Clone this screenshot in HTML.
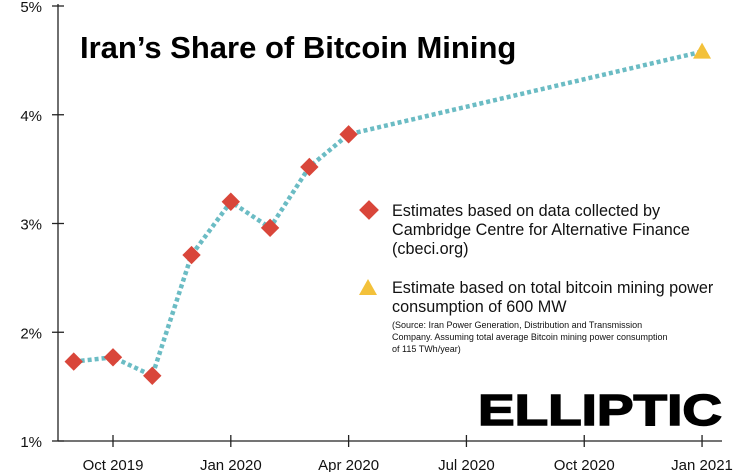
<!DOCTYPE html>
<html><head><meta charset="utf-8"><style>
body{margin:0;background:#fff;}
svg{display:block;font-family:"Liberation Sans",sans-serif;}
</style></head><body>
<svg id="chart" width="754" height="472">
<text x="80" y="58" font-size="31" font-weight="bold" fill="#000">Iran’s Share of Bitcoin Mining</text>
<g id="axes"></g>
<g id="marks"></g>
<g>
<rect x="362" y="203" width="14" height="14" fill="#d9463a" transform="rotate(45 369 210)"/>
<text x="392" y="216" font-size="16.2" fill="#111"><tspan x="392">Estimates based on data collected by</tspan><tspan x="392" dy="19">Cambridge Centre for Alternative Finance</tspan><tspan x="392" dy="19">(cbeci.org)</tspan></text>
<polygon points="368,279 377,295 359,295" fill="#f3c13a"/>
<text x="392" y="293" font-size="16.2" fill="#111"><tspan x="392">Estimate based on total bitcoin mining power</tspan><tspan x="392" dy="19">consumption of 600 MW</tspan></text>
<text font-size="9" fill="#111"><tspan x="392" y="328">(Source: Iran Power Generation, Distribution and Transmission</tspan><tspan x="392" dy="12">Company. Assuming total average Bitcoin mining power consumption</tspan><tspan x="392" dy="12">of 115 TWh/year)</tspan></text>
</g>
<text x="478" y="425" font-size="44" font-weight="900" fill="#000" stroke="#000" stroke-width="1.5" textLength="244" lengthAdjust="spacingAndGlyphs">ELLIPTIC</text>
</svg>
<script>
const yTicks=[1,2,3,4,5];
const xTickLabels=["Oct 2019","Jan 2020","Apr 2020","Jul 2020","Oct 2020","Jan 2021"];
const xTickMonths=[0,3,6,9,12,15];
const cambridgeMonths=[-1,0,1,2,3,4,5,6];
const cambridgeValues=[1.73,1.77,1.60,2.71,3.20,2.96,3.52,3.82];
const powerMonths=[15];
const powerValues=[4.58];
const NS="http://www.w3.org/2000/svg";
const xs=m=>113+m*39.27;
const ys=v=>441-(v-1)*108.75;
function mk(tag,attrs,parent){const e=document.createElementNS(NS,tag);for(const k in attrs)e.setAttribute(k,attrs[k]);parent.appendChild(e);return e;}
const ax=document.getElementById('axes'),mg=document.getElementById('marks');
let l=mk('line',{x1:58,y1:4,x2:58,y2:441,stroke:'#222','stroke-width':1.3},ax);


l=mk('line',{x1:58,y1:441,x2:722,y2:441,stroke:'#222','stroke-width':1.3},ax);


yTicks.forEach(v=>{const y=ys(v);
 mk('line',{x1:52,y1:y,x2:64,y2:y,stroke:'#222','stroke-width':1.3},ax);
 const t=mk('text',{x:42,y:y+6,'font-size':15,'text-anchor':'end',fill:'#111'},ax);t.textContent=v+'%';
 
 });
xTickMonths.forEach((m,i)=>{const x=xs(m);
 mk('line',{x1:x,y1:435,x2:x,y2:447,stroke:'#222','stroke-width':1.3},ax);
 const t=mk('text',{x:x,y:470,'font-size':15,'text-anchor':'middle',fill:'#111'},ax);t.textContent=xTickLabels[i];
 
 });
const pts=cambridgeMonths.map((m,i)=>[xs(m),ys(cambridgeValues[i])]).concat(powerMonths.map((m,i)=>[xs(m),ys(powerValues[i])]));
const pl=mk('polyline',{points:pts.map(p=>p.join(',')).join(' '),fill:'none',stroke:'#6bbcc4','stroke-width':4.5,'stroke-dasharray':'4 3'},mg);


cambridgeMonths.forEach((m,i)=>{const x=xs(m),y=ys(cambridgeValues[i]);
 const r=mk('rect',{x:x-6.5,y:y-6.5,width:13,height:13,fill:'#d9463a',transform:`rotate(45 ${x} ${y})`},mg);
 
 });
powerMonths.forEach((m,i)=>{const x=xs(m),y=ys(powerValues[i]);
 const p=mk('polygon',{points:`${x},${y-9} ${x+9},${y+7} ${x-9},${y+7}`,fill:'#f3c13a'},mg);
 
 });
</script>
</body></html>
